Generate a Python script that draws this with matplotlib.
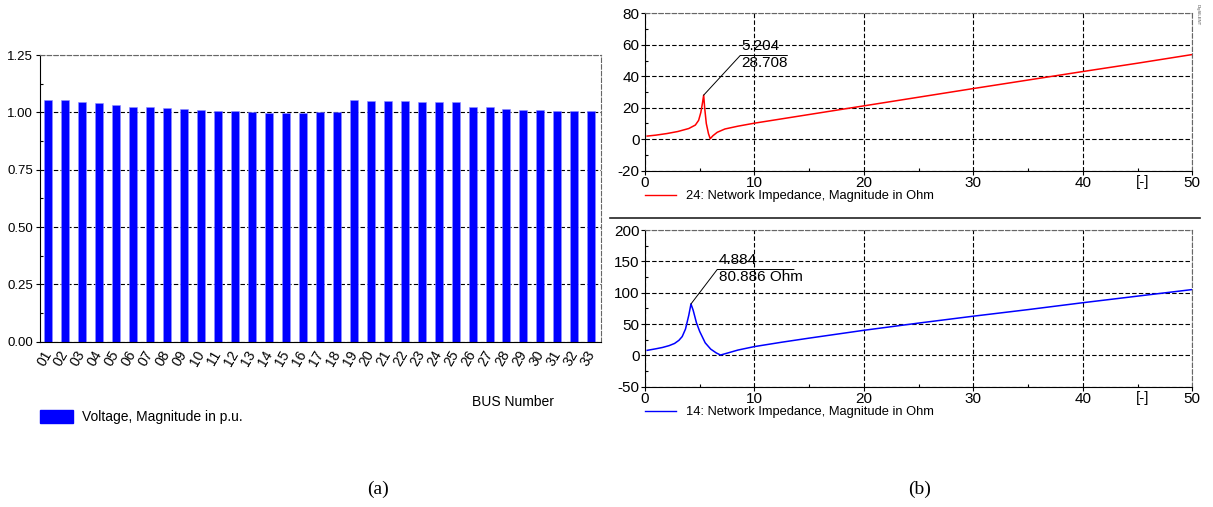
import numpy as np
import matplotlib
matplotlib.use("Agg")
import matplotlib.pyplot as plt
from matplotlib.lines import Line2D
from matplotlib.patches import Patch
from matplotlib.ticker import MultipleLocator, FormatStrFormatter

plt.rcParams["font.family"] = ["Liberation Sans", "DejaVu Sans"]
plt.rcParams["axes.unicode_minus"] = False

# --- (a) bus voltages, p.u. ---
bus_labels = [f"{i:02d}" for i in range(1, 34)]
bus_voltage = [1.054, 1.052, 1.045, 1.039, 1.033, 1.025, 1.025, 1.019, 1.013, 1.009,
               1.007, 1.004, 1.000, 0.999, 0.999, 0.999, 1.000, 1.003, 1.052, 1.050,
               1.050, 1.049, 1.045, 1.045, 1.045, 1.023, 1.022, 1.015, 1.010, 1.010,
               1.007, 1.007, 1.004]

# --- (b) network impedance vs harmonic order ---
h_24 = [0.2, 1, 2, 3, 4, 4.6, 4.9, 5.1, 5.25, 5.36, 5.45, 5.6, 5.8, 5.96, 6.2, 6.6,
        7.3, 8.5, 10, 15, 20, 25, 30, 35, 40, 45, 50]
z_24 = [2.0, 2.6, 3.6, 4.9, 6.8, 9.0, 12.0, 17.0, 23.0, 28.0, 20.0, 10.0, 3.5, 0.3,
        2.2, 4.4, 6.5, 8.3, 10.2, 15.7, 21.2, 26.7, 32.2, 37.6, 43.0, 48.3, 53.8]
h_14 = [0.2, 1, 1.6, 2.2, 2.7, 3.1, 3.4, 3.7, 4.0, 4.2, 4.4, 4.7, 5.0, 5.5, 6.0, 6.5,
        6.9, 7.5, 8.5, 10, 12.5, 15, 20, 25, 30, 35, 40, 45, 50]
z_14 = [8.0, 10.5, 12.6, 15.5, 19.0, 24.0, 30.0, 42.0, 64.0, 82.0, 72.0, 52.0, 38.0,
        20.0, 10.0, 4.0, 0.5, 3.5, 8.5, 14.0, 21.0, 27.5, 40.0, 51.5, 62.5, 73.0,
        84.0, 94.5, 105.0]

fig = plt.figure(figsize=(12.13, 5.07), dpi=100)
W, H = 1213, 507


def box(x0, y0, x1, y1):
    return [x0 / W, 1 - y1 / H, (x1 - x0) / W, (y1 - y0) / H]


def style_axes(ax, fs):
    for s in ("top", "right"):
        ax.spines[s].set_linestyle((0, (4, 2)))
        ax.spines[s].set_color("#666666")
    for s in ("left", "bottom"):
        ax.spines[s].set_color("black")
    ax.tick_params(which="major", direction="out", length=3, width=0.8, labelsize=fs)
    ax.tick_params(which="minor", direction="in", length=2, width=0.8)
    ax.grid(True, which="major", color="black", linestyle=(0, (4, 2)), linewidth=0.8)
    ax.set_axisbelow(True)


# ---------- (a) ----------
ax = fig.add_axes(box(40, 55, 601, 341.7))
x = np.arange(len(bus_labels))
ax.bar(x, bus_voltage, width=0.47, color="#0000ff", edgecolor="#9090ff", linewidth=0.4)
ax.set_xlim(-0.49, len(bus_labels) - 1 + 0.57)
ax.set_ylim(0, 1.25)
ax.yaxis.set_major_locator(MultipleLocator(0.25))
ax.yaxis.set_minor_locator(MultipleLocator(0.125))
ax.yaxis.set_major_formatter(FormatStrFormatter("%.2f"))
style_axes(ax, 9.5)
ax.grid(False, axis="x")
ax.set_xticks(x)
ax.set_xticklabels(bus_labels, rotation=60, ha="right", va="center",
                   rotation_mode="anchor", fontsize=10)
ax.tick_params(axis="x", length=0, pad=7)
ax.tick_params(axis="y", pad=2)
fig.text(472 / W, 1 - 402 / H, "BUS Number", fontsize=10, va="center", ha="left")
ax.legend([Patch(color="#0000ff")], ["Voltage, Magnitude in p.u."],
          loc="upper left", bbox_to_anchor=(40 / W, 1 - 410 / H),
          bbox_transform=fig.transFigure, frameon=False, fontsize=10,
          handlelength=2.4, handleheight=1.05, handletextpad=0.65, borderpad=0,
          borderaxespad=0)

# ---------- (b) ----------
panels = [
    (box(645, 13.3, 1192.3, 170.7), h_24, z_24, "#ff0000", (-20, 80), 20,
     "24: Network Impedance, Magnitude in Ohm", ("5.204", "28.708"),
     (5.36, 28.0), (8.7, 53.2), 13.0),
    (box(645, 230, 1192.3, 386.7), h_14, z_14, "#0000ff", (-50, 200), 50,
     "14: Network Impedance, Magnitude in Ohm", ("4.884", "80.886 Ohm"),
     (4.2, 82.0), (6.6, 137.0), 13.6),
]
for rect, hx, zy, col, ylim, ystep, lab, ann, peak, corner, xend in panels:
    axb = fig.add_axes(rect)
    axb.plot(hx, zy, color=col, lw=1.1)
    axb.set_xlim(0, 50)
    axb.set_ylim(*ylim)
    axb.xaxis.set_major_locator(MultipleLocator(10))
    axb.xaxis.set_minor_locator(MultipleLocator(5))
    axb.yaxis.set_major_locator(MultipleLocator(ystep))
    axb.yaxis.set_minor_locator(MultipleLocator(ystep / 2))
    style_axes(axb, 11)
    axb.tick_params(axis="x", pad=1)
    axb.tick_params(axis="y", pad=1)
    axb.text(45.5, -0.025, "[-]", transform=axb.get_xaxis_transform(),
             ha="center", va="top", fontsize=11)
    # peak marker annotation
    axb.plot([peak[0], corner[0], xend], [peak[1], corner[1], corner[1]],
             color="black", lw=0.7)
    axb.annotate(ann[0], corner, xytext=(1, 2), textcoords="offset points",
                 ha="left", va="bottom", fontsize=11)
    axb.annotate(ann[1], corner, xytext=(1, -0.5), textcoords="offset points",
                 ha="left", va="top", fontsize=11)
    axb.legend([Line2D([], [], color=col, lw=1.0)], [lab], loc="upper left",
               bbox_to_anchor=(0.0, -0.125), frameon=False, fontsize=9.3,
               handlelength=2.4, handletextpad=0.8, borderpad=0, borderaxespad=0)

# separator between the two impedance plots
fig.add_artist(Line2D([610 / W, 1200 / W], [1 - 218.3 / H, 1 - 218.3 / H],
                      color="#222222", lw=1.2))
fig.text(1198 / W, 1 - 4 / H, "DIgSILENT", rotation=270, fontsize=3,
         ha="center", va="top", color="#444444")

fig.text(378 / W, 1 - 489 / H, "(a)", family="Liberation Serif", fontsize=14,
         ha="center", va="center")
fig.text(920 / W, 1 - 489 / H, "(b)", family="Liberation Serif", fontsize=14,
         ha="center", va="center")

fig.savefig("out.png", dpi=100)
